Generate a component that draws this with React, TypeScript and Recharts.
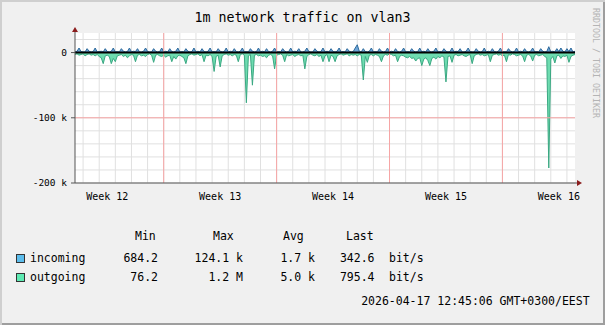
import {
    ComposedChart,
    Area,
    XAxis,
    YAxis,
    CartesianGrid,
    ReferenceLine,
} from 'recharts';

// time axis: days counted from Monday of week 12, one sample per 3 hours
const START_DAY = 1.5;
const STEP = 0.125;

// incoming traffic, k bit/s
const incoming = [
    1, 2, 7, 1.5, 1, 1, 6, 2, 1, 1.5,
    7, 1, 1.5, 2, 1, 6, 1.5, 1, 2, 7,
    1, 1.5, 1, 6, 2, 1, 1.5, 7, 1, 2,
    1.5, 6, 1, 1, 2, 7, 1.5, 1, 1, 6,
    2, 1, 1.5, 7, 1, 2, 1, 6, 1.5, 1,
    2, 7, 1, 1.5, 1, 6, 2, 1, 1.5, 7,
    1, 2, 1, 6, 1.5, 1, 2, 7, 1, 1.5,
    1, 6, 2, 1, 1.5, 7, 1, 2, 1, 6,
    1.5, 1, 2, 7, 1, 1.5, 1, 6, 2, 1,
    1.5, 7, 1, 2, 1, 6, 1.5, 1, 2, 7,
    1, 1.5, 1, 6, 2, 1, 1.5, 7, 1, 2,
    1.5, 6, 1, 1, 2, 7, 1.5, 1, 1, 6,
    2, 1, 1.5, 7, 1, 2, 1, 6, 1.5, 1,
    2, 7, 1, 1.5, 1, 6, 2, 1, 1.5, 7,
    12, 2, 1, 6, 1.5, 1, 2, 7, 1, 1.5,
    1, 6, 2, 1, 1.5, 7, 1, 2, 1, 6,
    1.5, 1, 2, 7, 1, 1.5, 1, 6, 2, 1,
    1.5, 7, 1, 2, 1, 6, 1.5, 1, 2, 7,
    1, 1.5, 1, 6, 2, 1, 1.5, 7, 1, 2,
    1.5, 6, 1, 1, 2, 7, 1.5, 1, 1, 6,
    2, 1, 1.5, 7, 1, 2, 1, 6, 1.5, 1,
    2, 7, 1, 1.5, 1, 6, 2, 1, 1.5, 7,
    1, 2, 1, 6, 1.5, 1, 2, 7, 1, 1.5,
    1, 6, 2, 1, 1.5, 9, 1, 2, 1, 6,
    1.5, 7, 2, 1, 6, 1.5, 7, 1, 2,
];

// outgoing traffic (drawn below zero), k bit/s
const outgoing = [
    -3, -2, -4, -3, -2, -5, -3, -2, -4, -3,
    -5, -3, -6, -8, -17, -5, -4, -6, -17, -9,
    -14, -5, -4, -3, -6, -4, -8, -5, -3, -4,
    -14, -4, -3, -5, -4, -6, -3, -2, -4, -15,
    -4, -3, -5, -6, -4, -7, -5, -4, -14, -6,
    -10, -5, -4, -6, -8, -17, -5, -3, -2, -4,
    -3, -2, -5, -3, -14, -4, -5, -3, -6, -29,
    -6, -4, -22, -5, -3, -2, -4, -3, -5, -3,
    -4, -14, -3, -2, -4, -77, -5, -3, -50, -4,
    -3, -5, -4, -6, -5, -8, -4, -3, -5, -25,
    -4, -3, -2, -4, -14, -3, -5, -4, -3, -6,
    -4, -3, -5, -4, -25, -6, -3, -2, -4, -5,
    -3, -6, -4, -14, -5, -3, -14, -4, -6, -14,
    -5, -3, -2, -4, -3, -2, -5, -3, -4, -3,
    -5, -3, -4, -42, -6, -15, -4, -3, -5, -3,
    -4, -6, -14, -5, -3, -4, -2, -3, -5, -4,
    -14, -6, -4, -5, -7, -8, -6, -9, -8, -13,
    -9, -8, -20, -10, -8, -12, -20, -9, -7, -10,
    -6, -8, -5, -7, -45, -6, -5, -15, -4, -3,
    -5, -4, -3, -5, -6, -4, -3, -17, -5, -3,
    -2, -4, -3, -5, -4, -3, -14, -4, -3, -2,
    -4, -3, -5, -4, -14, -3, -4, -2, -3, -5,
    -4, -3, -5, -14, -4, -3, -5, -13, -4, -3,
    -5, -4, -3, -6, -8, -177, -10, -6, -16, -5,
    -4, -9, -5, -6, -4, -15, -6, -4, -3,
];

const weekTicks = [3.5, 10.5, 17.5, 24.5, 31.5];
const weekLabels = ['Week 12', 'Week 13', 'Week 14', 'Week 15', 'Week 16'];
const weekStarts = [7, 14, 21, 28];
const dayLines = Array.from({ length: 31 }, (_, i) => i + 2);
const yTicks = [-200, -100, 0];
const yMinor = [20, 0, -20, -40, -60, -80, -100, -120, -140, -160, -180, -200];

const legendHeader = ['Min', 'Max', 'Avg', 'Last'];
const legendRows = [
    { name: 'incoming', color: '#5cbdec', values: ['684.2', '124.1 k', '1.7 k', '342.6'] },
    { name: 'outgoing', color: '#5eeab3', values: ['76.2', '1.2 M', '5.0 k', '795.4'] },
];

const data = incoming.map((v, i) => ({
    day: START_DAY + i * STEP,
    incoming: v,
    outgoing: outgoing[i],
}));

const FONT = '"DejaVu Sans Mono", monospace';

const headerX = [135, 213, 283, 346];
const valueRight = [158, 243, 315, 374.5];
const rowY = [258, 277];

const txt = (extra: React.CSSProperties): React.CSSProperties => ({
    position: 'absolute',
    fontFamily: FONT,
    fontSize: 11.5,
    lineHeight: '14px',
    whiteSpace: 'pre',
    color: '#000',
    ...extra,
});

export default function App() {
    return (
        <div
            style={{
                position: 'absolute',
                left: 0,
                top: 0,
                width: 605,
                height: 325,
                background: '#f0f0f0',
                boxShadow: 'inset 2px 2px 0 #cfcfcf, inset -2px -2px 0 #9e9e9e',
                overflow: 'hidden',
            }}
        >
            <div
                style={txt({
                    left: 0,
                    width: 605,
                    top: 10,
                    fontSize: 13.3,
                    lineHeight: '16px',
                    textAlign: 'center',
                })}
            >
                1m network traffic on vlan3
            </div>
            <div
                style={txt({
                    left: 591,
                    top: 8,
                    fontSize: 8.3,
                    lineHeight: '9px',
                    color: '#b4b4b4',
                    writingMode: 'vertical-rl',
                })}
            >
                RRDTOOL / TOBI OETIKER
            </div>
            <ComposedChart
                width={605}
                height={325}
                data={data}
                margin={{ top: 33, right: 30, bottom: 122, left: 0 }}
                style={{ position: 'absolute', left: 0, top: 0 }}
            >
                <CartesianGrid
                    fill="#ffffff"
                    stroke="#e0e0e0"
                    horizontalValues={yMinor}
                    verticalValues={dayLines}
                />
                {weekStarts.map((d) => (
                    <ReferenceLine key={d} x={d} stroke="#f6a4a4" />
                ))}
                <ReferenceLine y={-100} stroke="#f6a4a4" />
                <Area
                    type="linear"
                    dataKey="outgoing"
                    stroke="#3aa882"
                    strokeWidth={1}
                    fill="#6edcb0"
                    fillOpacity={1}
                    isAnimationActive={false}
                    dot={false}
                    activeDot={false}
                />
                <Area
                    type="linear"
                    dataKey="incoming"
                    stroke="#2d6a9c"
                    strokeWidth={1}
                    fill="#6fa6d8"
                    fillOpacity={1}
                    isAnimationActive={false}
                    dot={false}
                    activeDot={false}
                />
                <ReferenceLine y={0} stroke="#000000" strokeWidth={2} />
                <XAxis
                    dataKey="day"
                    type="number"
                    domain={[1.5, 32.5]}
                    ticks={weekTicks}
                    tickFormatter={(v: number) => weekLabels[weekTicks.indexOf(v)]}
                    height={20}
                    tickLine={false}
                    axisLine={{ stroke: '#555555' }}
                    tick={{ fill: '#000', fontFamily: FONT, fontSize: 10 }}
                    tickMargin={4}
                    interval={0}
                />
                <YAxis
                    type="number"
                    domain={[-200, 30]}
                    ticks={yTicks}
                    tickFormatter={(v: number) => (v === 0 ? '0' : `${v} k`)}
                    width={75}
                    tickSize={4}
                    tickMargin={4}
                    tickLine={{ stroke: '#555555' }}
                    axisLine={{ stroke: '#555555' }}
                    tick={{ fill: '#000', fontFamily: FONT, fontSize: 9.5 }}
                    allowDataOverflow
                    interval={0}
                />
            </ComposedChart>
            <svg
                width={605}
                height={325}
                style={{ position: 'absolute', left: 0, top: 0, pointerEvents: 'none' }}
            >
                <line x1={575} y1={183} x2={578} y2={183} stroke="#555555" />
                <polygon points="577,180 582,183 577,186" fill="#8b1c1c" />
                <line x1={75} y1={33} x2={75} y2={30} stroke="#555555" />
                <polygon points="72,32 75,27 78,32" fill="#8b1c1c" />
            </svg>
            {legendHeader.map((h, i) => (
                <div key={h} style={txt({ left: headerX[i], top: 229 })}>
                    {h}
                </div>
            ))}
            {legendRows.map((r, ri) => (
                <div key={r.name}>
                    <div
                        style={{
                            position: 'absolute',
                            left: 16,
                            top: rowY[ri] - 4,
                            width: 7,
                            height: 7,
                            background: r.color,
                            border: '1px solid #333',
                        }}
                    />
                    <div style={txt({ left: 30, top: rowY[ri] - 7 })}>{r.name}</div>
                    {r.values.map((v, vi) => (
                        <div
                            key={vi}
                            style={txt({ right: 605 - valueRight[vi], top: rowY[ri] - 7 })}
                        >
                            {v}
                        </div>
                    ))}
                    <div style={txt({ left: 389, top: rowY[ri] - 7 })}>bit/s</div>
                </div>
            ))}
            <div style={txt({ right: 15.4, top: 294 })}>2026-04-17 12:45:06 GMT+0300/EEST</div>
        </div>
    );
}
